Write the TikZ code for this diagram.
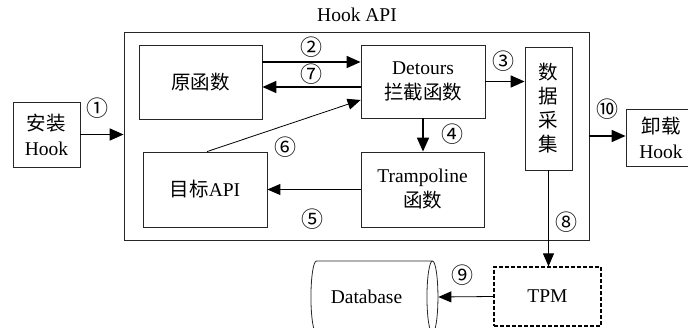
\documentclass[tikz,border=0pt]{standalone}
\usepackage{fontspec}
\setmainfont{Liberation Serif}
\newfontfamily\cjk{Noto Sans CJK SC}
\usetikzlibrary{arrows.meta,shapes.geometric,positioning}

\tikzset{
  blk/.style = {draw=black!85, line width=0.8pt, inner sep=0pt, align=center},
  bigarr/.style = {-{Triangle[length=14pt,width=12pt]}, line width=1.7pt},
  thinarr/.style = {-{Triangle[length=13pt,width=11pt]}, line width=0.8pt},
  num/.style = {font=\fontsize{22}{22}\cjk, inner sep=0pt}
}

\begin{document}
\begin{tikzpicture}[x=1pt, y=-1pt, font=\fontsize{19.5}{25}\selectfont]
  \useasboundingbox (0,0) rectangle (688,328);
  \clip (0,0) rectangle (688,328);
  % the Hook API frame
  \node[blk, minimum width=465pt, minimum height=208pt] (hook) at (356.5,136) {};
  \node (title) at (357,15) {Hook API};
  % boxes
  \node[blk, minimum width=67pt, minimum height=65pt] (inst) at (46.5,134.5) {{\cjk 安装}\\Hook};
  \node[blk, minimum width=123pt, minimum height=74pt, font=\fontsize{19.5}{25}\cjk] (orig) at (200.5,82) {原函数};
  \node[blk, minimum width=124pt, minimum height=73pt] (det) at (423,81.5) {Detours\\{\cjk 拦截函数}};
  \node[blk, minimum width=124pt, minimum height=75pt] (target) at (205,189.5) {{\cjk 目标}API};
  \node[blk, minimum width=123pt, minimum height=75pt] (tramp) at (422.5,189.5) {Trampoline\\{\cjk 函数}};
  \node[blk, minimum width=47pt, minimum height=123pt, font=\fontsize{19.5}{24}\cjk] (coll) at (548.5,108.5) {数\\据\\采\\集};
  \node[blk, minimum width=70pt, minimum height=57pt] (uninst) at (661,137.5) {{\cjk 卸载}\\Hook};
  \node[blk, draw=black, dashed, dash pattern=on 4pt off 2pt, line width=1.2pt, minimum width=107pt, minimum height=59pt] (tpm) at (547.5,296.5) {TPM};
  \node[cylinder, draw=black!85, line width=0.8pt, shape border rotate=0, aspect=0.8, minimum height=127pt, minimum width=72pt, inner sep=0pt] (db) at (371.5,297) {Database\hspace*{10pt}};
  % arrows
  \draw[bigarr] (inst.east) -- (inst.east -| hook.west);
  \draw[bigarr] ([yshift=20pt]orig.east) -- ([yshift=20pt]orig.east -| det.west);
  \draw[bigarr] ([yshift=-5.5pt]det.west) -- ([yshift=-5.5pt]det.west -| orig.east);
  \draw[thinarr] ([xshift=2pt]target.north) -- ([yshift=-18.5pt]det.west);
  \draw[bigarr] (det.south) -- (det.south |- tramp.north);
  \draw[thinarr, line width=1pt] (tramp.west) -- (target.east);
  \draw[bigarr] (det.east) -- (det.east -| coll.west);
  \draw[bigarr] (hook.east) -- (hook.east -| uninst.west);
  \draw[thinarr] (coll.south) -- (coll.south |- tpm.north);
  \draw[thinarr] (tpm.west) -- (db.east);
  % step numbers
  \foreach \t/\x/\y/\n in {①/97/108/1, ②/311/47/2, ③/503/61/3, ④/452/134/4, ⑤/312/219/5,
                           ⑥/285/147/6, ⑦/311/74/7, ⑧/566/222/8, ⑨/462/275/9, ⑩/607/109/10}
    \node[num] (c\n) at (\x,\y) {\t};
\end{tikzpicture}
\end{document}
